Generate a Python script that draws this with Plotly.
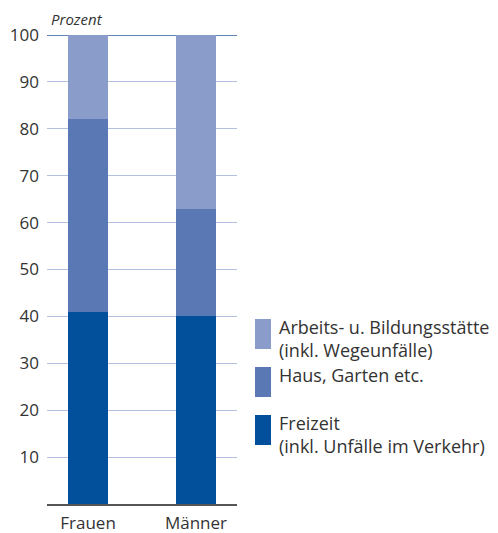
import plotly.graph_objects as go

categories = ["Frauen", "Männer"]
series_names = ["Freizeit<br>(inkl. Unfälle im Verkehr)", "Haus, Garten etc.",
                "Arbeits- u. Bildungsstätte<br>(inkl. Wegeunfälle)"]
freizeit = [41, 40]
haus = [41, 23]
arbeit = [18, 37]
colors = ["#02509b", "#5a79b4", "#8a9cc9"]
y_ticks = [10, 20, 30, 40, 50, 60, 70, 80, 90, 100]

FONT = "Open Sans"
fig = go.Figure()
for name, vals, col in zip(series_names, [freizeit, haus, arbeit], colors):
    fig.add_trace(go.Bar(x=categories, y=vals, name=name, marker=dict(color=col, line=dict(width=0)),
                         width=0.37, showlegend=False))

fig.update_layout(
    barmode="stack",
    width=498, height=533,
    margin=dict(l=47, r=261, t=35, b=29),
    plot_bgcolor="white", paper_bgcolor="white",
    font=dict(family=FONT, size=17, color="#333333"),
    xaxis=dict(range=[-0.38, 1.38], showline=True, linecolor="#555555", linewidth=1.5,
               ticks="", ticklabelstandoff=3, automargin=False,
               tickfont=dict(size=17, color="#333333"), showgrid=False),
    yaxis=dict(range=[0, 100], tickvals=y_ticks, showgrid=True, gridcolor="#b3c0e0", gridwidth=1,
               zeroline=False, ticks="", ticklabelstandoff=7, automargin=False,
               tickfont=dict(size=17, color="#333333")),
)
# top line at 100
fig.add_shape(type="line", xref="paper", yref="y", x0=0, x1=1, y0=100, y1=100,
              line=dict(color="#2d5a98", width=1.5), layer="below")
fig.add_annotation(text="<i>Prozent</i>", xref="paper", yref="paper", x=(49 - 47) / 190, y=1.0, yshift=4,
                   xanchor="left", yanchor="bottom", showarrow=False, font=dict(size=15, color="#333333"))

# custom legend (top to bottom)
legend_items = [(series_names[2], colors[2]), (series_names[1], colors[1]), (series_names[0], colors[0])]
leg_pix = [(319, 349), (367, 397), (415, 445)]
for (name, col), (ya, yb) in zip(legend_items, leg_pix):
    y0 = (504 - yb) / 469
    y1 = (504 - ya) / 469
    x0 = (255 - 47) / 190
    x1 = (271 - 47) / 190
    fig.add_shape(type="rect", xref="paper", yref="paper", x0=x0, x1=x1, y0=y0, y1=y1,
                  fillcolor=col, line=dict(width=0))
    fig.add_annotation(text=name, xref="paper", yref="paper", x=(277 - 47) / 190, y=y1, yshift=6,
                       xanchor="left", yanchor="top", align="left", showarrow=False,
                       font=dict(size=18, color="#333333"))

fig.write_html("out.html")
